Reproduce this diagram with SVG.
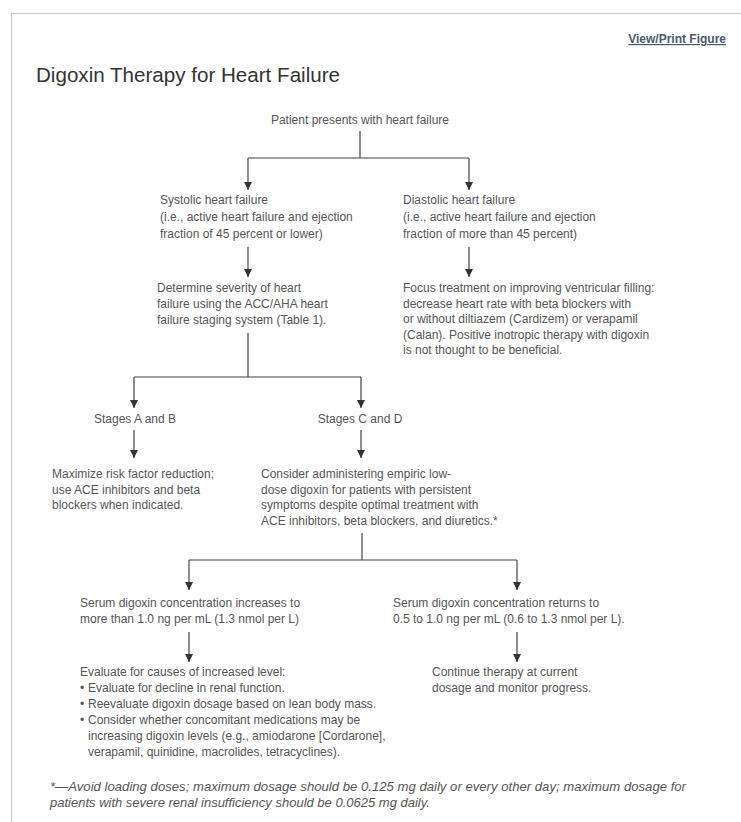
<svg xmlns="http://www.w3.org/2000/svg" width="741" height="822" viewBox="0 0 741 822">
<defs>
<marker id="arr" markerUnits="userSpaceOnUse" markerWidth="10" markerHeight="10" refX="8" refY="4" orient="auto">
<path d="M0,0 L8,4 L0,8 Z" fill="#333"/>
</marker>
<style>
.t{font-family:"Liberation Sans",Arial,sans-serif;font-size:12px;fill:#555}
.c{text-anchor:middle}
.ln{fill:none;stroke:#444;stroke-width:1.2}
.ar{fill:none;stroke:#444;stroke-width:1.2;marker-end:url(#arr)}
.fn{font-family:"Liberation Sans",Arial,sans-serif;font-size:13px;font-style:italic;fill:#555}
</style>
</defs>
<rect x="0" y="0" width="741" height="822" fill="#fff"/>
<rect x="11.5" y="13.5" width="740" height="820" fill="none" stroke="#ccc" stroke-width="1.2"/>
<g id="header">
<text x="726" y="43" text-anchor="end" font-family="Liberation Sans,Arial,sans-serif" font-size="12" font-weight="bold" fill="#4a5a6a" text-decoration="underline">View/Print Figure</text>
<text x="36" y="82" font-family="Liberation Sans,Arial,sans-serif" font-size="20.5" fill="#333" textLength="304" lengthAdjust="spacingAndGlyphs">Digoxin Therapy for Heart Failure</text>
</g>
<g id="connectors">
<path class="ln" d="M360,131 V158 M248,158 H469"/>
<path class="ar" d="M248,158 V190"/>
<path class="ar" d="M469,158 V190"/>
<path class="ar" d="M248,247 V277"/>
<path class="ar" d="M469,247 V277"/>
<path class="ln" d="M248,333 V377 M134,377 H361"/>
<path class="ar" d="M134,377 V408"/>
<path class="ar" d="M361,377 V408"/>
<path class="ar" d="M134,430 V458"/>
<path class="ar" d="M361,430 V458"/>
<path class="ln" d="M362,533 V560 M189,560 H517"/>
<path class="ar" d="M189,560 V590"/>
<path class="ar" d="M517,560 V590"/>
<path class="ar" d="M189,632 V662"/>
<path class="ar" d="M517,632 V662"/>
</g>
<g id="patient"><text class="t c" x="360" y="124">Patient presents with heart failure</text></g>
<g id="systolic">
<text class="t" x="160" y="204">Systolic heart failure</text>
<text class="t" x="160" y="221">(i.e., active heart failure and ejection</text>
<text class="t" x="160" y="238">fraction of 45 percent or lower)</text>
</g>
<g id="diastolic">
<text class="t" x="403" y="204">Diastolic heart failure</text>
<text class="t" x="403" y="221">(i.e., active heart failure and ejection</text>
<text class="t" x="403" y="238">fraction of more than 45 percent)</text>
</g>
<g id="determine">
<text class="t" x="157" y="292">Determine severity of heart</text>
<text class="t" x="157" y="308">failure using the ACC/AHA heart</text>
<text class="t" x="157" y="324">failure staging system (Table 1).</text>
</g>
<g id="focus">
<text class="t" x="403" y="292">Focus treatment on improving ventricular filling:</text>
<text class="t" x="403" y="307.5">decrease heart rate with beta blockers with</text>
<text class="t" x="403" y="323">or without diltiazem (Cardizem) or verapamil</text>
<text class="t" x="403" y="338.5">(Calan). Positive inotropic therapy with digoxin</text>
<text class="t" x="403" y="354">is not thought to be beneficial.</text>
</g>
<g id="stagesAB"><text class="t c" x="135" y="423">Stages A and B</text></g>
<g id="stagesCD"><text class="t c" x="360" y="423">Stages C and D</text></g>
<g id="maximize">
<text class="t" x="52" y="478">Maximize risk factor reduction;</text>
<text class="t" x="52" y="494">use ACE inhibitors and beta</text>
<text class="t" x="52" y="509">blockers when indicated.</text>
</g>
<g id="consider">
<text class="t" x="261" y="478">Consider administering empiric low-</text>
<text class="t" x="261" y="494">dose digoxin for patients with persistent</text>
<text class="t" x="261" y="509">symptoms despite optimal treatment with</text>
<text class="t" x="261" y="525">ACE inhibitors, beta blockers, and diuretics.*</text>
</g>
<g id="increases">
<text class="t" x="80" y="607">Serum digoxin concentration increases to</text>
<text class="t" x="80" y="623">more than 1.0 ng per mL (1.3 nmol per L)</text>
</g>
<g id="returns">
<text class="t" x="393" y="607">Serum digoxin concentration returns to</text>
<text class="t" x="393" y="623">0.5 to 1.0 ng per mL (0.6 to 1.3 nmol per L).</text>
</g>
<g id="evaluate">
<text class="t" x="80" y="676">Evaluate for causes of increased level:</text>
<text class="t" x="80" y="692">•</text><text class="t" x="88" y="692">Evaluate for decline in renal function.</text>
<text class="t" x="80" y="708">•</text><text class="t" x="88" y="708">Reevaluate digoxin dosage based on lean body mass.</text>
<text class="t" x="80" y="724">•</text><text class="t" x="88" y="724">Consider whether concomitant medications may be</text>
<text class="t" x="88" y="740">increasing digoxin levels (e.g., amiodarone [Cordarone],</text>
<text class="t" x="88" y="756">verapamil, quinidine, macrolides, tetracyclines).</text>
</g>
<g id="continue">
<text class="t" x="432" y="676">Continue therapy at current</text>
<text class="t" x="432" y="692">dosage and monitor progress.</text>
</g>
<g id="footnote">
<text class="fn" x="50" y="791" textLength="636" lengthAdjust="spacingAndGlyphs">*—Avoid loading doses; maximum dosage should be 0.125 mg daily or every other day; maximum dosage for</text>
<text class="fn" x="50" y="807">patients with severe renal insufficiency should be 0.0625 mg daily.</text>
</g>
</svg>
